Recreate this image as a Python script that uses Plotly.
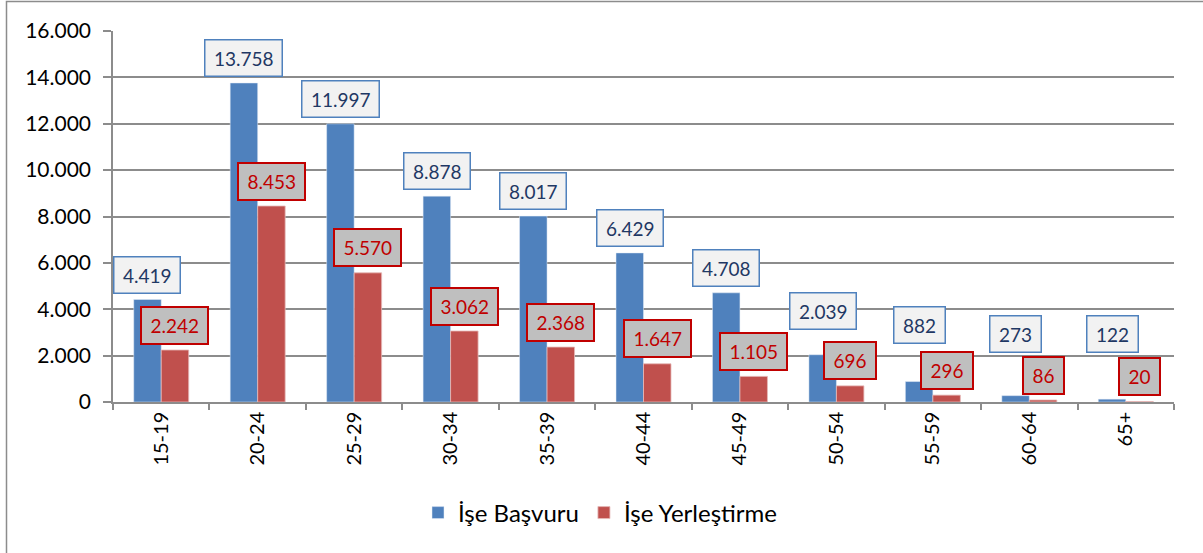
import plotly.graph_objects as go

categories = ["15-19", "20-24", "25-29", "30-34", "35-39", "40-44", "45-49", "50-54", "55-59", "60-64", "65+"]
basvuru = [4419, 13758, 11997, 8878, 8017, 6429, 4708, 2039, 882, 273, 122]
yerlestirme = [2242, 8453, 5570, 3062, 2368, 1647, 1105, 696, 296, 86, 20]
y_ticks = [0, 2000, 4000, 6000, 8000, 10000, 12000, 14000, 16000]

# label lift above bar tops (pixels)
blue_lift = [25, 25, 25, 25, 25, 25, 25, 44, 57, 62, 65]
red_lift = [25] * len(categories)

BLUE = "#4F81BD"
RED = "#C0504D"
FONT = "Lato"

def fmt(v):
    return f"{v:,}".replace(",", ".")

L, R, T, B = 113, 29, 31, 151
W, H = 1203, 553
plot_w = W - L - R
plot_h = H - T - B
bargap = 0.43
cat_w = plot_w / len(categories)
half = (1 - bargap) * cat_w / 4

fig = go.Figure()
fig.add_trace(go.Bar(x=categories, y=basvuru, name="İşe Başvuru", marker_color=BLUE))
fig.add_trace(go.Bar(x=categories, y=yerlestirme, name="İşe Yerleştirme", marker_color=RED,
                     marker_line=dict(color="#E6B9B8", width=0.8)))

anns = []
for i, c in enumerate(categories):
    anns.append(dict(x=c, y=basvuru[i], xref="x", yref="y", text="\u2009" + fmt(basvuru[i]) + "\u2009",
                     showarrow=False, xshift=-half, yshift=blue_lift[i],
                     font=dict(family=FONT, size=19, color="#1F3864"),
                     bgcolor="#F2F2F2", bordercolor=BLUE, borderwidth=1.5, borderpad=6))
    anns.append(dict(x=c, y=yerlestirme[i], xref="x", yref="y", text="\u2009" + fmt(yerlestirme[i]) + "\u2009",
                     showarrow=False, xshift=half, yshift=red_lift[i],
                     font=dict(family=FONT, size=19, color="#C00000"),
                     bgcolor="#BFBFBF", bordercolor="#C00000", borderwidth=2, borderpad=6))

fig.update_layout(
    width=W, height=H,
    margin=dict(l=L, r=R, t=T, b=B, autoexpand=False),
    paper_bgcolor="white", plot_bgcolor="white",
    barmode="group", bargap=bargap, bargroupgap=0,
    separators=",.",
    font=dict(family=FONT, size=20, color="black"),
    annotations=anns,
    legend=dict(orientation="h", x=(600 - L) / plot_w, xanchor="center",
                y=(H - B - 513) / plot_h, yanchor="middle",
                font=dict(family=FONT, size=24, color="black"), itemwidth=30, traceorder="normal"),
    showlegend=True,
    shapes=[dict(type="rect", xref="paper", yref="paper",
                 x0=(6.5 - L) / plot_w, x1=1.3,
                 y0=-1.0, y1=(H - B - 1.5) / plot_h,
                 line=dict(color="#8C8C8C", width=1.5), fillcolor="rgba(0,0,0,0)", layer="below")],
)
fig.update_xaxes(type="category", tickangle=-90, showline=True, linecolor="#8C8C8C", linewidth=1.5,
                 ticks="outside", tickson="boundaries", ticklen=6, tickcolor="#8C8C8C", tickwidth=1.5,
                 tickfont=dict(family=FONT, size=20, color="black"), showgrid=False)
fig.update_yaxes(range=[0, 16000], tickvals=y_ticks, ticktext=[fmt(v) for v in y_ticks],
                 showline=True, linecolor="#8C8C8C", linewidth=1.5,
                 ticks="outside", ticklen=8, tickcolor="#8C8C8C", tickwidth=1.5, ticklabelstandoff=8,
                 showgrid=True, gridcolor="#8C8C8C", gridwidth=1.5, zeroline=False,
                 tickfont=dict(family=FONT, size=21, color="black"))

fig.write_html("out.html", config={"displayModeBar": False},
               post_script="document.body.style.margin='0';")
